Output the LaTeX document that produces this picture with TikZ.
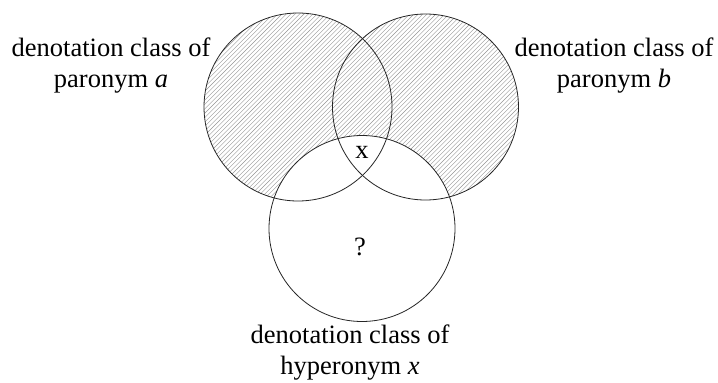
\documentclass[tikz,border=0pt]{standalone}
\usepackage{fontspec}
\setmainfont{Liberation Serif}
\begin{document}
\begin{tikzpicture}[x=1pt,y=-1pt,
  lbl/.style={align=center, font=\fontsize{26.5}{31}\selectfont, inner sep=0pt},
  circ/.style={draw=black!85, line width=0.8pt},
  hatch/.style={draw=black!42, line width=0.4pt}]
\useasboundingbox (0,0) rectangle (718,383);
\coordinate (A) at (298,107);
\coordinate (B) at (425.5,107);
\coordinate (C) at (362,228.5);
\begin{scope}
  \clip (A) circle [radius=94pt] (B) circle [radius=93pt];
  \foreach \i in {-400,-395.6,...,800} \draw[hatch] (\i,300) -- ++(300,-300);
\end{scope}
\fill[white] (C) circle [radius=93pt];
\draw[circ] (A) circle [radius=94pt];
\draw[circ] (B) circle [radius=93pt];
\draw[circ] (C) circle [radius=93pt];
\node[lbl] (la) at (111,66) {denotation class of\\paronym \textit{a}};
\node[lbl] (lb) at (614,66) {denotation class of\\paronym \textit{b}};
\node[lbl] (lx) at (350,353) {denotation class of\\hyperonym \textit{x}};
\node[lbl] (x) at (362,152) {x};
\node[lbl] (q) at (360,247) {?};
\end{tikzpicture}
\end{document}
